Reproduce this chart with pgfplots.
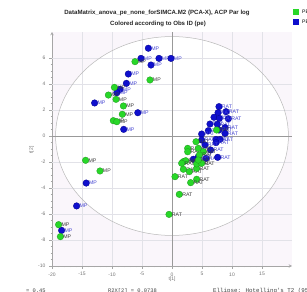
\documentclass[border=0pt]{standalone}
\usepackage{pgfplots}
\pgfplotsset{compat=1.18}
\usepackage{fontspec}
\setmainfont{Liberation Sans}
\newfontfamily\monofont{Liberation Mono}
\definecolor{gfill}{RGB}{40,215,40}
\definecolor{gdraw}{RGB}{30,150,30}
\definecolor{bfill}{RGB}{15,15,205}
\definecolor{bdraw}{RGB}{0,0,140}
\definecolor{blab}{RGB}{70,70,210}
\definecolor{glab}{RGB}{60,60,60}
\definecolor{lav}{RGB}{250,246,251}
\definecolor{gridc}{RGB}{226,226,232}
\pgfplotstableread{
x y lab
-3.94 6.75 MP
-5.17 5.97 MP
-2.17 5.97 MP
-0.17 5.97 MP
-3.5 5.46 MP
-7.28 4.77 MP
-7.6 4.05 MP
-8.67 3.59 MP
-9.2 3.33 MP
-12.9 2.54 MP
-5.7 1.79 MP
-8.05 0.51 MP
-14.3 -3.62 MP
-15.9 -5.38 MP
-18.4 -7.26 MP
}\blueMP
\pgfplotstableread{
x y lab
-6.17 5.72 MP
-3.67 4.31 MP
-9.6 3.74 MP
-10.6 3.15 MP
-9.33 2.82 MP
-8.1 2.31 MP
-8.28 1.67 MP
-9.78 1.18 MP
-9.2 1.1 MP
-14.4 -1.87 MP
-12.0 -2.69 MP
-18.9 -6.82 MP
-18.6 -7.74 MP
}\greenMP
\pgfplotstableread{
x y lab
7.83 2.26 RAT
9.0 1.87 RAT
7.67 1.79 RAT
7.0 1.44 RAT
9.39 1.33 RAT
7.9 1.36 RAT
6.33 0.92 RAT
7.56 0.9 RAT
8.83 0.64 RAT
6.06 0.41 RAT
7.83 0.46 RAT
8.83 0.2 RAT
4.94 0.15 RAT
7.33 -0.26 RAT
8.0 -0.26 RAT
4.94 -0.31 RAT
7.33 -0.51 RAT
5.5 -0.69 RAT
6.44 -1.08 RAT
3.56 -1.79 RAT
5.67 -1.72 RAT
7.61 -1.64 RAT
4.39 -1.59 RAT
}\blueRAT
\pgfplotstableread{
x y lab
4.0 -0.44 RAT
2.61 -0.95 RAT
2.61 -1.21 RAT
4.39 -0.95 RAT
5.22 -1.21 RAT
7.44 0.46 RAT
4.56 -1.46 RAT
1.89 -1.97 RAT
2.28 -1.9 RAT
1.61 -2.1 RAT
1.89 -2.56 RAT
2.89 -2.74 RAT
4.11 -2.49 RAT
4.11 -2.15 RAT
4.94 -2.1 RAT
0.5 -3.13 RAT
4.11 -3.33 RAT
3.11 -3.59 RAT
1.22 -4.49 RAT
-0.5 -6.03 RAT
4.39 -1.85 RAT
}\greenRAT
\begin{document}
\begin{tikzpicture}
\useasboundingbox (0pt,0pt) rectangle (307pt,291pt);
\clip (0pt,0pt) rectangle (307pt,291pt);
\fill[lav] (52pt,25pt) rectangle (292pt,259pt);
\begin{axis}[
  scale only axis,
  width=240pt, height=234pt,
  at={(52pt,25pt)}, anchor=south west,
  xmin=-20, xmax=20, ymin=-10, ymax=8,
  axis x line=bottom, axis y line=left,
  axis line style={gray!70, line width=0.5pt},
  xtick={-20,-15,...,15}, ytick={-10,-8,...,6},
  minor x tick num=4, minor y tick num=3,
  tick align=outside,
  major tick length=3pt, minor tick length=1.5pt,
  tick style={gray!70, line width=0.4pt},
  ticklabel style={font=\fontsize{5}{6}\selectfont, text=gray!90!black},
  /pgf/number format/assume math mode=true,
  clip=false,
  mark size=3.3pt,
  every node near coord/.append style={anchor=west, inner sep=0.5pt, xshift=2.3pt, yshift=0pt, font=\fontsize{5.2}{6}\selectfont},
]
\fill[white] (axis cs:0,0) ellipse [x radius=19.4, y radius=7.65];
\foreach \gx in {-15,-10,-5,5,10,15} {
  \edef\tmp{\noexpand\draw[gridc, line width=0.4pt] (axis cs:\gx,-10) -- (axis cs:\gx,8);}\tmp
}
\foreach \gy in {-8,-6,-4,-2,2,4,6} {
  \edef\tmp{\noexpand\draw[gridc, line width=0.4pt] (axis cs:-20,\gy) -- (axis cs:20,\gy);}\tmp
}
\draw[gray!55, line width=0.5pt] (axis cs:0,0) ellipse [x radius=19.4, y radius=7.65];
\draw[gray!80, line width=0.5pt] (axis cs:0,-10) -- (axis cs:0,8);
\draw[gray!80, line width=0.5pt] (axis cs:-20,0) -- (axis cs:20,0);
\addplot[only marks, mark=*, mark options={fill=bfill, draw=bdraw, line width=0.3pt},
  nodes near coords, point meta=explicit symbolic,
  every node near coord/.append style={text=blab}] table[meta=lab] {\blueMP};
\addplot[only marks, mark=*, mark options={fill=bfill, draw=bdraw, line width=0.3pt},
  nodes near coords, point meta=explicit symbolic,
  every node near coord/.append style={text=blab}] table[meta=lab] {\blueRAT};
\addplot[only marks, mark=*, mark options={fill=gfill, draw=gdraw, line width=0.3pt},
  nodes near coords, point meta=explicit symbolic,
  every node near coord/.append style={text=glab}] table[meta=lab] {\greenMP};
\addplot[only marks, mark=*, mark options={fill=gfill, draw=gdraw, line width=0.3pt},
  nodes near coords, point meta=explicit symbolic,
  every node near coord/.append style={text=glab}] table[meta=lab] {\greenRAT};
\end{axis}
% titles
\node[font=\bfseries\fontsize{6.1}{7}\selectfont, text=black!85] at (157pt,278pt) {DataMatrix\_anova\_pe\_none\_forSIMCA.M2 (PCA-X), ACP Par log};
\node[font=\bfseries\fontsize{6.1}{7}\selectfont, text=black!85] at (158pt,267pt) {Colored according to Obs ID (pe)};
% legend
\fill[gfill] (293pt,276pt) rectangle (299pt,282pt);
\fill[bfill] (293pt,266pt) rectangle (299pt,272pt);
\node[anchor=west, font=\fontsize{5}{6}\selectfont, inner sep=0pt] at (302pt,279pt) {PE};
\node[anchor=west, font=\fontsize{5}{6}\selectfont, inner sep=0pt] at (302pt,269pt) {PE};
% axis labels
\node[font=\fontsize{5}{6}\selectfont, text=gray!90!black] at (172pt,11.5pt) {t[1]};
\node[font=\fontsize{5}{6}\selectfont, text=gray!90!black, rotate=90] at (31.7pt,141pt) {t[2]};
% bottom text (cut by the lower edge, as in the reference)
\node[anchor=base east, font=\monofont\fontsize{5.4}{6}\selectfont, text=black!75, inner sep=0pt] at (0pt,-1.6pt) {R2X[1]};
\node[anchor=base west, font=\monofont\fontsize{5.4}{6}\selectfont, text=black!75, inner sep=0pt] at (26pt,-1.6pt) {= 0.45};
\node[anchor=base west, font=\monofont\fontsize{5.4}{6}\selectfont, text=black!75, inner sep=0pt] at (108pt,-1.6pt) {R2X[2] = 0.0738};
\node[anchor=base west, font=\monofont\fontsize{5.8}{6}\selectfont, text=black!75, inner sep=0pt] at (213pt,-1.6pt) {Ellipse: Hotelling's T2 (95\%)};
\end{tikzpicture}
\end{document}
